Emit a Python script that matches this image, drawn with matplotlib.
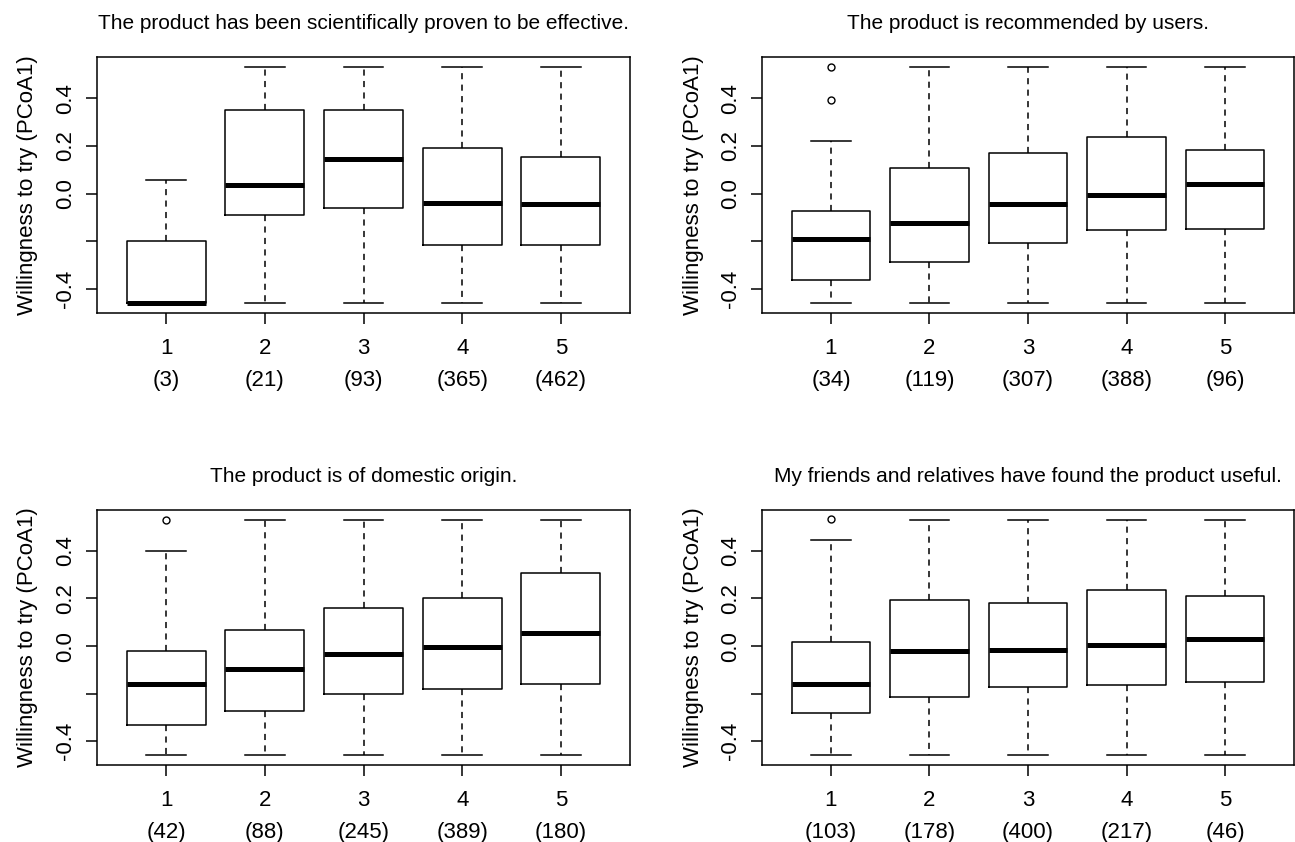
import matplotlib
matplotlib.use("Agg")
import matplotlib.pyplot as plt

plt.rcParams['font.family'] = ['Liberation Sans', 'DejaVu Sans']

titles = [
    "The product has been scientifically proven to be effective.",
    "The product is recommended by users.",
    "The product is of domestic origin.",
    "My friends and relatives have found the product useful.",
]
categories = ["1", "2", "3", "4", "5"]
counts = [
    [3, 21, 93, 365, 462],
    [34, 119, 307, 388, 96],
    [42, 88, 245, 389, 180],
    [103, 178, 400, 217, 46],
]
medians = [
    [-0.460, 0.034, 0.143, -0.039, -0.044],
    [-0.191, -0.123, -0.044, -0.005, 0.041],
    [-0.158, -0.095, -0.033, -0.006, 0.057],
    [-0.158, -0.022, -0.017, 0.005, 0.029],
]
q1 = [
    [-0.460, -0.088, -0.061, -0.214, -0.214],
    [-0.361, -0.286, -0.208, -0.152, -0.147],
    [-0.331, -0.275, -0.202, -0.179, -0.158],
    [-0.281, -0.213, -0.174, -0.164, -0.153],
]
q3 = [
    [-0.200, 0.351, 0.351, 0.193, 0.153],
    [-0.073, 0.109, 0.169, 0.238, 0.182],
    [-0.022, 0.068, 0.162, 0.203, 0.307],
    [0.017, 0.194, 0.179, 0.236, 0.212],
]
whislo = [
    [-0.460, -0.460, -0.460, -0.460, -0.460],
    [-0.460, -0.460, -0.460, -0.460, -0.460],
    [-0.460, -0.460, -0.460, -0.460, -0.460],
    [-0.460, -0.460, -0.460, -0.460, -0.460],
]
whishi = [
    [0.057, 0.530, 0.530, 0.530, 0.530],
    [0.222, 0.530, 0.530, 0.530, 0.530],
    [0.398, 0.530, 0.530, 0.530, 0.530],
    [0.444, 0.530, 0.530, 0.530, 0.530],
]
outliers = [
    [[], [], [], [], []],
    [[0.530, 0.390], [], [], [], []],
    [[0.530], [], [], [], []],
    [[0.533], [], [], [], []],
]
ylabel = "Willingness to try (PCoA1)"
yticks = [-0.4, -0.2, 0.0, 0.2, 0.4]
yticklabels = ["-0.4", "", "0.0", "0.2", "0.4"]

W, H = 1295, 842
fig = plt.figure(figsize=(W / 100, H / 100), dpi=100)

# frame pixel boxes: (left, top, right, bottom)
frames = [(97, 57, 630, 313), (762, 57, 1294, 313),
          (97, 510, 630, 765), (762, 510, 1294, 765)]

lw = 1.1
fs = 16
for k in range(4):
    l, t, r, b = frames[k]
    ax = fig.add_axes([l / W, (H - b) / H, (r - l) / W, (b - t) / H])
    stats = []
    for i in range(5):
        stats.append(dict(med=medians[k][i], q1=q1[k][i], q3=q3[k][i],
                          whislo=whislo[k][i], whishi=whishi[k][i],
                          fliers=outliers[k][i], label=categories[i]))
    ax.bxp(stats, positions=range(1, 6), widths=0.8, showfliers=True,
           boxprops=dict(color='black', linewidth=lw),
           medianprops=dict(color='black', linewidth=3.6, solid_capstyle='butt'),
           whiskerprops=dict(color='black', linewidth=lw, linestyle=(0, (4, 3.5))),
           capprops=dict(color='black', linewidth=lw),
           capwidths=0.4,
           flierprops=dict(marker='o', markersize=5, markerfacecolor='none',
                           markeredgecolor='black', markeredgewidth=1.0))
    ax.set_xlim(0.3, 5.7)
    ax.set_ylim(-0.50, 0.572)
    ax.set_xticks(range(1, 6))
    ax.set_xticklabels([f"{c}\n({n})" for c, n in zip(categories, counts[k])],
                       fontsize=fs, linespacing=1.68)
    ax.set_yticks(yticks)
    ax.set_yticklabels(yticklabels, fontsize=fs, rotation=90, va='center')
    ax.tick_params(axis='x', length=8, width=lw, pad=10)
    ax.tick_params(axis='y', length=8, width=lw, pad=7)
    for s in ax.spines.values():
        s.set_linewidth(lw)
    ax.set_ylabel(ylabel, fontsize=fs, labelpad=12)
    ax.set_title(titles[k], fontsize=15, pad=20)

fig.savefig("out.png", dpi=100)
